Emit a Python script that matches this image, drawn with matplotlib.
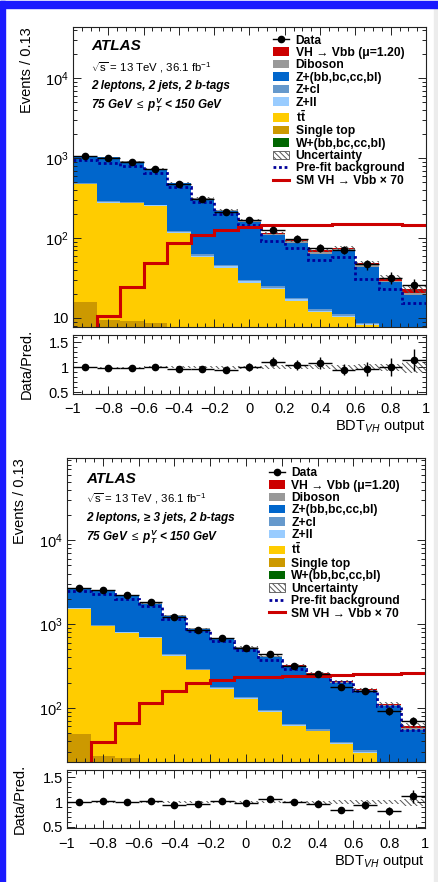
import numpy as np
import matplotlib
matplotlib.use('Agg')
import matplotlib.pyplot as plt
from matplotlib.patches import Patch, Rectangle
from matplotlib.lines import Line2D
from matplotlib.ticker import MultipleLocator, LogLocator, FuncFormatter, NullFormatter, FixedLocator

plt.rcParams['font.family'] = ['Liberation Sans', 'DejaVu Sans']
plt.rcParams['mathtext.fontset'] = 'custom'
plt.rcParams['mathtext.rm'] = 'Liberation Sans'
plt.rcParams['mathtext.it'] = 'Liberation Sans:italic'
plt.rcParams['mathtext.bf'] = 'Liberation Sans:bold'
plt.rcParams['mathtext.bfit'] = 'Liberation Sans:italic:bold'
plt.rcParams['hatch.linewidth'] = 0.7

# BDT_VH binning, 15 bins of width 0.133
edges = np.linspace(-1, 1, 16)

# ---- 2 leptons, 2 jets, 2 b-tags ----
data_2j   = [1070, 1020, 900, 735, 480, 309, 213, 168, 128, 98, 76, 71, 47, 32, 26]
whf_2j    = [1.0, 0.8, 0.7, 0.6, 0.5, 0.4, 0.3, 0.3, 0.2, 0.2, 0.2, 0.1, 0.1, 0.1, 0.1]
stop_2j   = [15, 8.5, 8.5, 8, 5, 3, 2.5, 1.8, 1.4, 1.0, 0.7, 0.6, 0.4, 0.3, 0.2]
ttbar_2j  = [453, 267, 264, 244, 110, 54, 40, 25.5, 21.4, 15.3, 10.9, 9.7, 7.6, 4.6, 3.2]
zll_2j    = [6, 5, 4.5, 4, 3, 2, 1.5, 1, 0.8, 0.6, 0.4, 0.3, 0.2, 0.15, 0.1]
zcl_2j    = [9, 8, 7, 6, 4.5, 3, 2.2, 1.6, 1.2, 0.9, 0.7, 0.5, 0.35, 0.25, 0.2]
zhf_2j    = [571, 736, 620, 465, 366, 250, 173, 130, 83, 69.5, 51, 58, 34.7, 22.5, 15.5]
dib_2j    = [8, 8, 8, 7, 6, 5.5, 5, 5, 4.5, 4, 3.5, 3, 2.5, 1.5, 1]
smvh_2j   = [0.08, 0.15, 0.35, 0.70, 1.23, 1.56, 1.8, 1.94, 2.07, 2.07, 2.1, 2.14, 2.17, 2.17, 2.11]
prefit_2j = [944, 870, 794, 648, 435, 284, 200, 145, 92, 76, 53, 58.6, 31, 23, 15.6]
unc_2j    = [0.012, 0.012, 0.013, 0.015, 0.02, 0.025, 0.03, 0.03, 0.035, 0.04, 0.045, 0.05, 0.06, 0.07, 0.11]

# ---- 2 leptons, >=3 jets, 2 b-tags ----
data_3j   = [2716, 2541, 2213, 1808, 1205, 859, 683, 518, 440, 318, 253, 175, 157, 92, 68.6]
whf_3j    = [2, 1.5, 1.3, 1.1, 0.9, 0.7, 0.5, 0.4, 0.3, 0.3, 0.2, 0.2, 0.1, 0.1, 0.1]
stop_3j   = [46, 25, 24, 20, 15, 11, 8, 6, 5, 4, 3, 2.5, 2, 1.5, 1]
ttbar_3j  = [1472, 915, 759, 662, 404, 268, 161, 121, 84, 56, 49, 34, 27, 16, 11]
zll_3j    = [15, 12, 10, 8, 6, 4.5, 3.5, 2.5, 2, 1.5, 1.2, 0.9, 0.7, 0.5, 0.3]
zcl_3j    = [22, 18, 15, 12, 9, 7, 5, 4, 3, 2.3, 1.8, 1.4, 1.1, 0.8, 0.5]
zhf_3j    = [1126, 1520, 1375, 1043, 819, 584, 483, 382, 311, 245, 195, 161, 127, 86, 42]
dib_3j    = [14, 14, 13, 12, 11, 10, 9, 9, 8, 7, 6, 5, 4, 3, 2]
smvh_3j   = [0.21, 0.55, 0.94, 1.63, 2.29, 2.83, 3.09, 3.3, 3.3, 3.39, 3.44, 3.51, 3.61, 3.64, 3.71]
prefit_3j = [2472, 2256, 1995, 1633, 1153, 820, 622, 485, 376, 293, 237, 201, 160, 104, 54.6]
unc_3j    = [0.01, 0.01, 0.01, 0.012, 0.015, 0.018, 0.02, 0.022, 0.025, 0.028, 0.03, 0.035, 0.04, 0.045, 0.07]

mu = 1.20
sm_scale = 70

c_vh = '#cc0000'
c_dib = '#999999'
c_zhf = '#0066cc'
c_zcl = '#6699cc'
c_zll = '#99ccff'
c_tt = '#ffcc00'
c_stop = '#cc9900'
c_whf = '#006600'
c_pre = '#000099'
hatch = '\\\\\\\\\\\\'

fig = plt.figure(figsize=(4.39, 8.82), dpi=100)
W, H = 439., 882.


def axes_px(x0, y0, x1, y1):
    return fig.add_axes([x0 / W, 1 - y1 / H, (x1 - x0) / W, (y1 - y0) / H])


def style_axis(a):
    for s in a.spines.values():
        s.set_linewidth(0.8)
        s.set_color('#222222')
    a.tick_params(which='both', direction='in', top=True, right=True, labelsize=10.5,
                  color='#222222', width=0.7)
    a.tick_params(which='major', length=6)
    a.tick_params(which='minor', length=3)
    a.xaxis.set_major_locator(MultipleLocator(0.2))
    a.xaxis.set_minor_locator(MultipleLocator(0.05))
    a.set_xlim(-1, 1)


def log_label(v, pos):
    n = int(round(np.log10(v)))
    if n == 1:
        return '10'
    return r'$10^{%d}$' % n


def x_label(v, pos):
    s = '%g' % round(v, 2)
    return s.replace('-', '\u2212')


def draw_region(ax, rax, data, layers, smvh, prefit, unc, ylim, jets_text, lx, ly, tx, ty, ylab_x):
    data = np.array(data, float)
    smvh = np.array(smvh, float)
    unc = np.array(unc, float)
    centers = 0.5 * (edges[1:] + edges[:-1])
    width = edges[1] - edges[0]

    base = np.full(len(data), 1e-3)
    for vals, col in layers:
        top = base + np.array(vals, float)
        ax.stairs(top, edges, baseline=base, fill=True, color=col, lw=0)
        base = top
    sig = mu * smvh
    ax.stairs(base + sig, edges, baseline=base, fill=True, color=c_vh, lw=0)
    total = base + sig

    ax.bar(centers, 2 * unc * total, bottom=total * (1 - unc), width=width,
           fill=False, hatch=hatch, edgecolor='#555555', lw=0)
    ax.stairs(prefit, edges, baseline=None, color=c_pre, lw=2.0, ls=(0, (1, 1)))
    ax.stairs(smvh * sm_scale, edges, baseline=None, color=c_vh, lw=2.2)
    ax.errorbar(centers, data, xerr=width / 2, yerr=np.sqrt(data), fmt='o', color='k',
                ms=4.5, lw=1.0, capsize=0, zorder=5)

    ax.set_yscale('log')
    ax.set_ylim(*ylim)
    style_axis(ax)
    ax.yaxis.set_major_locator(LogLocator(base=10, numticks=10))
    ax.yaxis.set_minor_locator(LogLocator(base=10, subs=np.arange(2, 10), numticks=20))
    ax.yaxis.set_major_formatter(FuncFormatter(log_label))
    ax.yaxis.set_minor_formatter(NullFormatter())
    ax.tick_params(axis='x', labelbottom=False)
    ax.tick_params(axis='y', pad=3)
    ax.set_ylabel('Events / 0.13', fontsize=10.5, loc='top')
    ax.yaxis.set_label_coords(ylab_x, 1.0)

    handles = [Line2D([], [], color='k', marker='o', ms=4.5, lw=1.0),
               Patch(fc=c_vh), Patch(fc=c_dib), Patch(fc=c_zhf), Patch(fc=c_zcl),
               Patch(fc=c_zll), Patch(fc=c_tt), Patch(fc=c_stop), Patch(fc=c_whf),
               Patch(fc='white', ec='#555555', hatch=hatch, lw=0.6),
               Line2D([], [], color=c_pre, lw=2.0, ls=(0, (1, 1))),
               Line2D([], [], color=c_vh, lw=2.2)]
    labels = ['Data', 'VH \u2192 Vbb (\u03bc=%.2f)' % mu, 'Diboson', 'Z+(bb,bc,cc,bl)', 'Z+cl',
              'Z+ll', r'$\mathbf{t\bar{t}}$', 'Single top', 'W+(bb,bc,cc,bl)', 'Uncertainty',
              'Pre-fit background', 'SM VH \u2192 Vbb \u00d7 %d' % sm_scale]
    ax.legend(handles, labels, loc='upper left', bbox_to_anchor=(lx, ly), frameon=False,
              prop={'weight': 'bold', 'size': 8.7}, labelspacing=0.035, handlelength=1.3,
              handleheight=0.7, handletextpad=0.55, borderpad=0, borderaxespad=0)

    def put(s, dy, **kw):
        ax.annotate(s, xy=(0, 1), xycoords='axes fraction', xytext=(tx * 0.72, -dy * 0.72),
                    textcoords='offset points', va='center', ha='left', **kw)
    put('ATLAS', ty[0], fontsize=11, fontweight='bold', style='italic')
    put(r'$\sqrt{\rm s}$ = 13 TeV , 36.1 fb$^{-1}$', ty[1], fontsize=8.2)
    put(jets_text, ty[2], fontsize=8.5, fontweight='bold', style='italic')
    put(r'75 GeV $\leq$ $\mathbfit{p}_{\mathbfit{T}}^{\mathbfit{V}}$ < 150 GeV', ty[3],
        fontsize=8.5, fontweight='bold', style='italic')

    # ratio panel
    ratio = data / total
    rax.bar(centers, 2 * unc, bottom=1 - unc, width=width, fill=False, hatch=hatch,
            edgecolor='#555555', lw=0)
    rax.errorbar(centers, ratio, xerr=width / 2, yerr=np.sqrt(data) / total, fmt='o',
                 color='k', ms=4.5, lw=1.0, capsize=0, zorder=5)
    style_axis(rax)
    rax.set_ylim(0.47, 1.65)
    rax.yaxis.set_major_locator(FixedLocator([0.5, 1.0, 1.5]))
    rax.yaxis.set_minor_locator(MultipleLocator(0.1))
    rax.yaxis.set_major_formatter(FuncFormatter(lambda v, p: '%g' % v))
    rax.xaxis.set_major_formatter(FuncFormatter(x_label))
    rax.tick_params(axis='x', pad=6)
    rax.tick_params(axis='y', pad=3)
    rax.set_ylabel('Data/Pred.', fontsize=10.5)
    rax.yaxis.set_label_coords(ylab_x, 0.5)
    rax.set_xlabel(r'BDT$_{VH}$ output', fontsize=10.5, loc='right')
    rax.xaxis.set_label_coords(1.0, -0.42)


layers_2j = [(whf_2j, c_whf), (stop_2j, c_stop), (ttbar_2j, c_tt), (zll_2j, c_zll),
             (zcl_2j, c_zcl), (zhf_2j, c_zhf), (dib_2j, c_dib)]
layers_3j = [(whf_3j, c_whf), (stop_3j, c_stop), (ttbar_3j, c_tt), (zll_3j, c_zll),
             (zcl_3j, c_zcl), (zhf_3j, c_zhf), (dib_3j, c_dib)]

ax1 = axes_px(73, 27, 426, 327)
rax1 = axes_px(73, 335, 426, 393.5)
draw_region(ax1, rax1, data_2j, layers_2j, smvh_2j, prefit_2j, unc_2j, (7.7, 4.4e4),
            '2 leptons, 2 jets, 2 b-tags', 0.567, 0.975, 18, (19, 41, 59, 78), -0.11)

ax2 = axes_px(67, 458, 425, 762)
rax2 = axes_px(67, 770, 425, 828.3)
draw_region(ax2, rax2, data_3j, layers_3j, smvh_3j, prefit_3j, unc_3j, (22.5, 9.6e4),
            '2 leptons, \u2265 3 jets, 2 b-tags', 0.564, 0.970, 19, (21, 41, 60, 79), -0.112)

# frame around the page
fig.patches.append(Rectangle((0, 1 - 8 / H), 1, 7 / H, transform=fig.transFigure,
                             color='#1a1aff', zorder=10))
fig.patches.append(Rectangle((0, 0), 5 / W, 1 - 1 / H, transform=fig.transFigure,
                             color='#1a1aff', zorder=10))
fig.patches.append(Rectangle((434 / W, 0), 5 / W, 1 - 8 / H, transform=fig.transFigure,
                             color='#ececec', zorder=9))

fig.savefig('out.png', dpi=100)
